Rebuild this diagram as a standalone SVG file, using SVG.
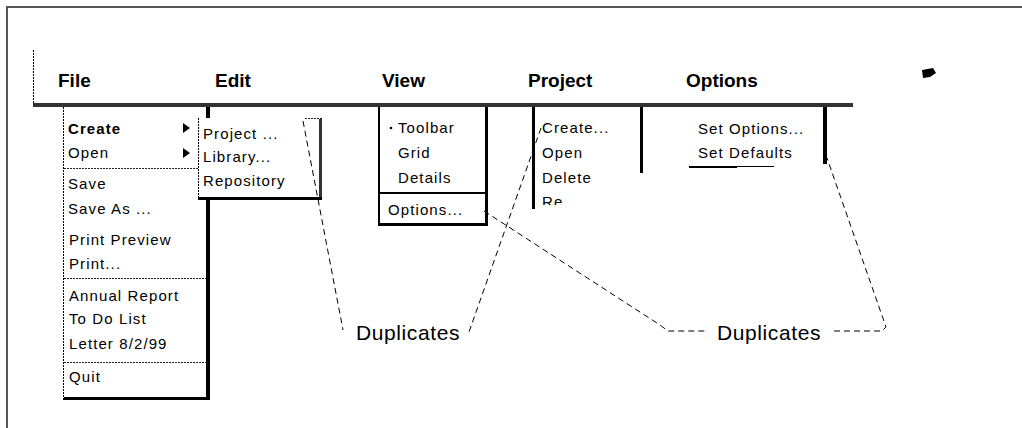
<svg xmlns="http://www.w3.org/2000/svg" width="1022" height="428" viewBox="0 0 1022 428">
  <style>
    .title { font-family: "Liberation Sans", Arial, sans-serif; font-size: 19px; font-weight: bold; fill: #000; }
    .item { font-family: "Liberation Sans", Arial, sans-serif; font-size: 15px; letter-spacing: 1.1px; fill: #000; }
    .note { font-family: "Liberation Sans", Arial, sans-serif; font-size: 21px; letter-spacing: 0.6px; fill: #000; }
    .dots { stroke: #000; stroke-width: 1; stroke-dasharray: 2 1; fill: none; }
    .sep { stroke: #222; stroke-width: 1; stroke-dasharray: 2 1; fill: none; }
    .edge { fill: #000; }
    .lead { stroke: #000; stroke-width: 1; stroke-dasharray: 6 4; fill: none; }
  </style>
  <defs>
    <clipPath id="cutRow">
      <rect x="530" y="180" width="60" height="25"/>
    </clipPath>
  </defs>

  <rect width="1022" height="428" fill="#fff"/>

  <!-- outer frame (top and left edges) -->
  <path d="M7,428 V7 H1022" fill="none" stroke="#555" stroke-width="2"/>

  <!-- menu bar -->
  <g id="menubar">
    <line class="dots" x1="33.5" y1="50" x2="33.5" y2="104"/>
    <rect x="33" y="103" width="820" height="4" fill="#333"/>
    <text class="title" x="58" y="87">File</text>
    <text class="title" x="215" y="87">Edit</text>
    <text class="title" x="382" y="87">View</text>
    <text class="title" x="528" y="87">Project</text>
    <text class="title" x="686" y="87">Options</text>
    <path d="M922,70 L933,68 L936,73 L930,77 L923,78 Z" fill="#000"/>
  </g>

  <!-- File menu -->
  <g id="file-menu">
    <line class="dots" x1="63.5" y1="107" x2="63.5" y2="400"/>
    <rect class="edge" x="206" y="107" width="4" height="293"/>
    <rect class="edge" x="64" y="397" width="146" height="3"/>
    <line class="sep" x1="64" y1="168.5" x2="206" y2="168.5"/>
    <line class="sep" x1="64" y1="278.5" x2="206" y2="278.5"/>
    <line class="sep" x1="64" y1="362.5" x2="206" y2="362.5"/>
    <text class="item" x="68" y="134" font-weight="bold">Create</text>
    <polygon points="183,123 190,128 183,133" fill="#000"/>
    <text class="item" x="68" y="158">Open</text>
    <polygon points="183,148 190,153 183,158" fill="#000"/>
    <text class="item" x="68" y="189">Save</text>
    <text class="item" x="68" y="214">Save As ...</text>
    <text class="item" x="69" y="245">Print Preview</text>
    <text class="item" x="69" y="269">Print...</text>
    <text class="item" x="69" y="301">Annual Report</text>
    <text class="item" x="69" y="324">To Do List</text>
    <text class="item" x="69" y="349">Letter 8/2/99</text>
    <text class="item" x="69" y="382">Quit</text>
  </g>

  <!-- Create submenu -->
  <g id="create-submenu">
    <rect x="198" y="118" width="124" height="82" fill="#fff"/>
    <line class="dots" x1="198.5" y1="118" x2="198.5" y2="200"/>
    <line class="sep" x1="305" y1="118.5" x2="322" y2="118.5"/>
    <rect x="319" y="119" width="3" height="81" fill="#333"/>
    <rect class="edge" x="198" y="197" width="124" height="3"/>
    <text class="item" x="203" y="139">Project ...</text>
    <text class="item" x="203" y="162">Library...</text>
    <text class="item" x="203" y="186">Repository</text>
  </g>

  <!-- View menu -->
  <g id="view-menu">
    <rect class="edge" x="378" y="107" width="2" height="119"/>
    <rect class="edge" x="485" y="107" width="3" height="119"/>
    <rect class="edge" x="378" y="223" width="110" height="3"/>
    <rect class="edge" x="378" y="192" width="110" height="2"/>
    <circle cx="391" cy="128" r="1.3" fill="#000"/>
    <text class="item" x="398" y="133">Toolbar</text>
    <text class="item" x="398" y="158">Grid</text>
    <text class="item" x="398" y="183">Details</text>
    <text class="item" x="388" y="215">Options...</text>
  </g>

  <!-- Project menu -->
  <g id="project-menu">
    <rect class="edge" x="532" y="107" width="3" height="102"/>
    <rect class="edge" x="640" y="107" width="3" height="66"/>
    <text class="item" x="542" y="133">Create...</text>
    <text class="item" x="542" y="158">Open</text>
    <text class="item" x="542" y="183">Delete</text>
    <text class="item" x="542" y="207" clip-path="url(#cutRow)">Re</text>
  </g>

  <!-- Options menu -->
  <g id="options-menu">
    <rect class="edge" x="823" y="107" width="4" height="57"/>
    <rect class="edge" x="689" y="166" width="48" height="2"/>
    <rect class="edge" x="737" y="166" width="37" height="1"/>
    <text class="item" x="698" y="134">Set Options...</text>
    <text class="item" x="698" y="158">Set Defaults</text>
  </g>

  <!-- callout labels -->
  <g id="label-left">
    <text class="note" x="356" y="340">Duplicates</text>
  </g>
  <g id="label-right">
    <text class="note" x="717" y="340">Duplicates</text>
  </g>

  <!-- leader lines -->
  <g id="connectors">
    <line class="lead" x1="303" y1="121" x2="343" y2="330"/>
    <line class="lead" x1="541" y1="128" x2="469" y2="332"/>
    <polyline class="lead" points="484,211 660,325 668,331 708,331"/>
    <polyline class="lead" points="834,331 882,331 886,327 827,158"/>
  </g>
</svg>
